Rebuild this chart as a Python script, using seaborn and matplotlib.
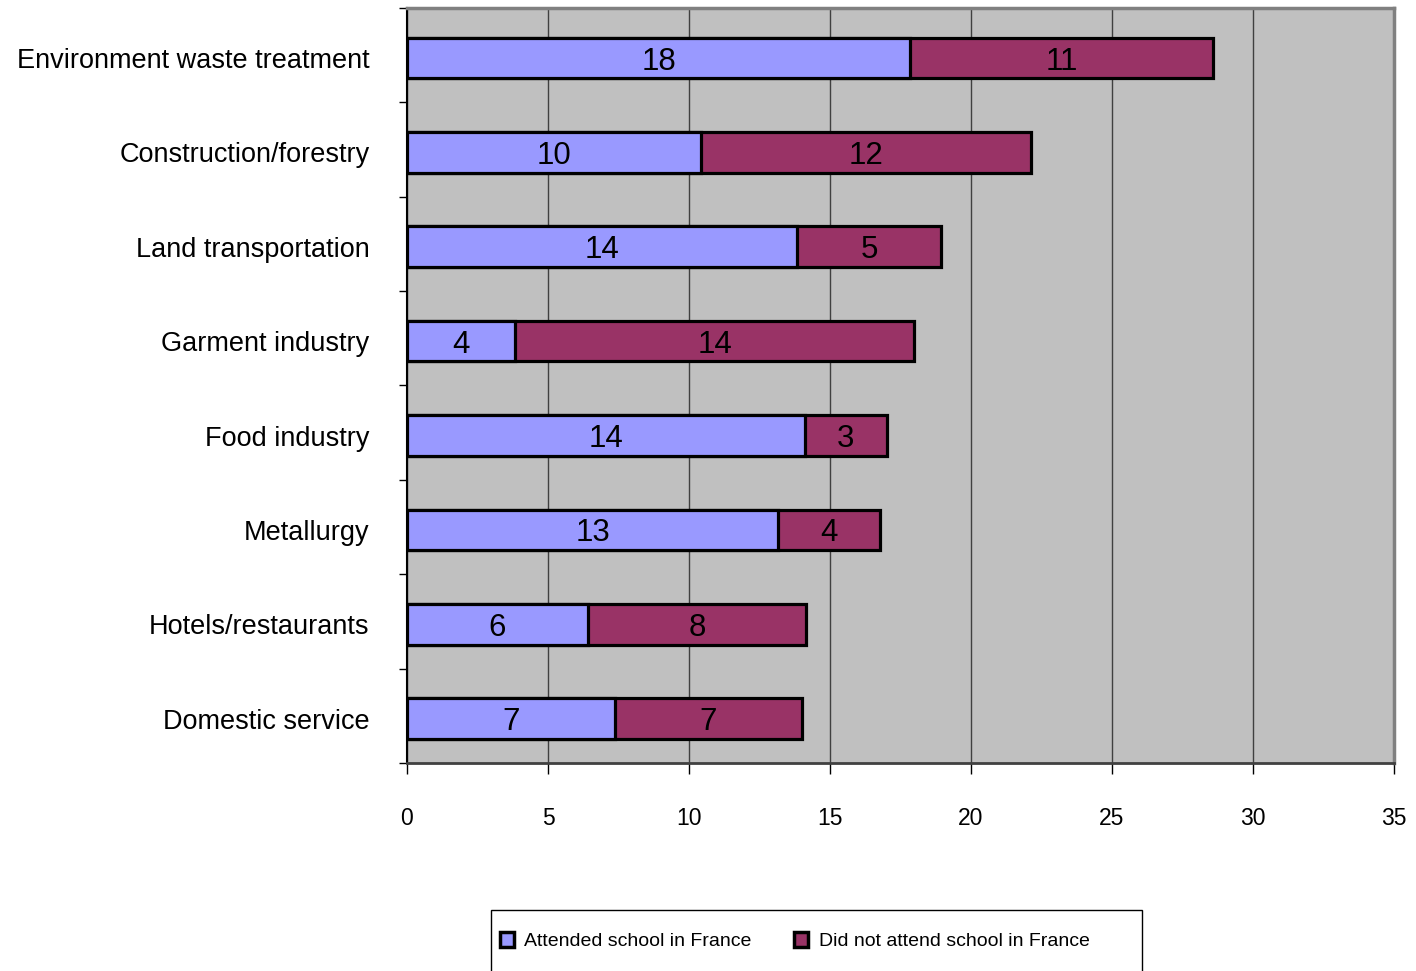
import matplotlib
import matplotlib.pyplot as plt
import numpy as np
import seaborn as sns
from matplotlib.patches import Patch, Rectangle

sectors = ["Environment waste treatment", "Construction/forestry", "Land transportation",
           "Garment industry", "Food industry", "Metallurgy", "Hotels/restaurants",
           "Domestic service"]
attended = [17.84, 10.43, 13.83, 3.83, 14.11, 13.16, 6.42, 7.38]
not_attended = [10.74, 11.70, 5.11, 14.15, 2.91, 3.61, 7.73, 6.62]
x_ticks = [0, 5, 10, 15, 20, 25, 30, 35]
series_names = ["Attended school in France", "Did not attend school in France"]

blue = "#9999FF"
red = "#993366"

sns.set_theme(style="white")
plt.rcParams['font.family'] = ['Liberation Sans', 'DejaVu Sans']
plt.rcParams['text.color'] = 'black'
plt.rcParams['xtick.labelcolor'] = 'black'
plt.rcParams['ytick.labelcolor'] = 'black'

totals = np.array(attended) + np.array(not_attended)

fig = plt.figure(figsize=(14.16, 9.71), dpi=100)
ax = fig.add_axes([407 / 1416, 1 - 763 / 971, 987 / 1416, 755 / 971])
ax.set_facecolor("#C0C0C0")

sns.barplot(x=totals, y=sectors, color=red, saturation=1, orient="h", width=0.43,
            edgecolor="black", linewidth=2.3, ax=ax)
sns.barplot(x=attended, y=sectors, color=blue, saturation=1, orient="h", width=0.43,
            edgecolor="black", linewidth=2.3, ax=ax)

for i, (a, n) in enumerate(zip(attended, not_attended)):
    ax.text(a / 2, i, f"{round(a)}", ha="center", va="center_baseline", fontsize=22.5)
    ax.text(a + n / 2, i, f"{round(n)}", ha="center", va="center_baseline", fontsize=22.5)

ax.set_xlim(0, 35)
ax.set_ylim(7.47, -0.53)
ax.set_xticks(x_ticks)
ax.set_xticklabels([str(t) for t in x_ticks], fontsize=16.5)
ax.xaxis.grid(True, color="#404040", linewidth=1)
ax.yaxis.grid(False)
ax.set_axisbelow(True)
ax.set_xlabel("")
ax.set_ylabel("")

ax.tick_params(axis="x", direction="out", length=8, width=1, color="black", pad=24, bottom=True)
ax.tick_params(axis="y", which="major", length=0, pad=27, labelsize=19.5)
ax.set_yticks(np.arange(-0.53, 8, 1), minor=True)
ax.tick_params(axis="y", which="minor", direction="out", length=6, width=1, color="black", left=True)

for side in ["top", "right"]:
    ax.spines[side].set_color("#808080")
    ax.spines[side].set_linewidth(2.5)
ax.spines["left"].set_color("black")
ax.spines["left"].set_linewidth(1.5)
ax.spines["bottom"].set_color("#404040")
ax.spines["bottom"].set_linewidth(2)

# legend box, runs off the bottom edge like the original
fig.patches.append(Rectangle((491 / 1416, -0.01), 651 / 1416, 0.01 + 61 / 971,
                             transform=fig.transFigure, facecolor="white",
                             edgecolor="black", linewidth=1))
handles = [Patch(facecolor=blue, edgecolor="black", linewidth=2.5),
           Patch(facecolor=red, edgecolor="black", linewidth=2.5)]
leg = fig.legend(handles, series_names, loc="center left", ncol=2,
                 bbox_to_anchor=(500 / 1416, 1 - 941 / 971),
                 fontsize=14, frameon=False, handlelength=0.7, handleheight=0.85,
                 handletextpad=0.55, borderpad=0, borderaxespad=0, columnspacing=2.2)

fig.savefig("out.png", dpi=100)
